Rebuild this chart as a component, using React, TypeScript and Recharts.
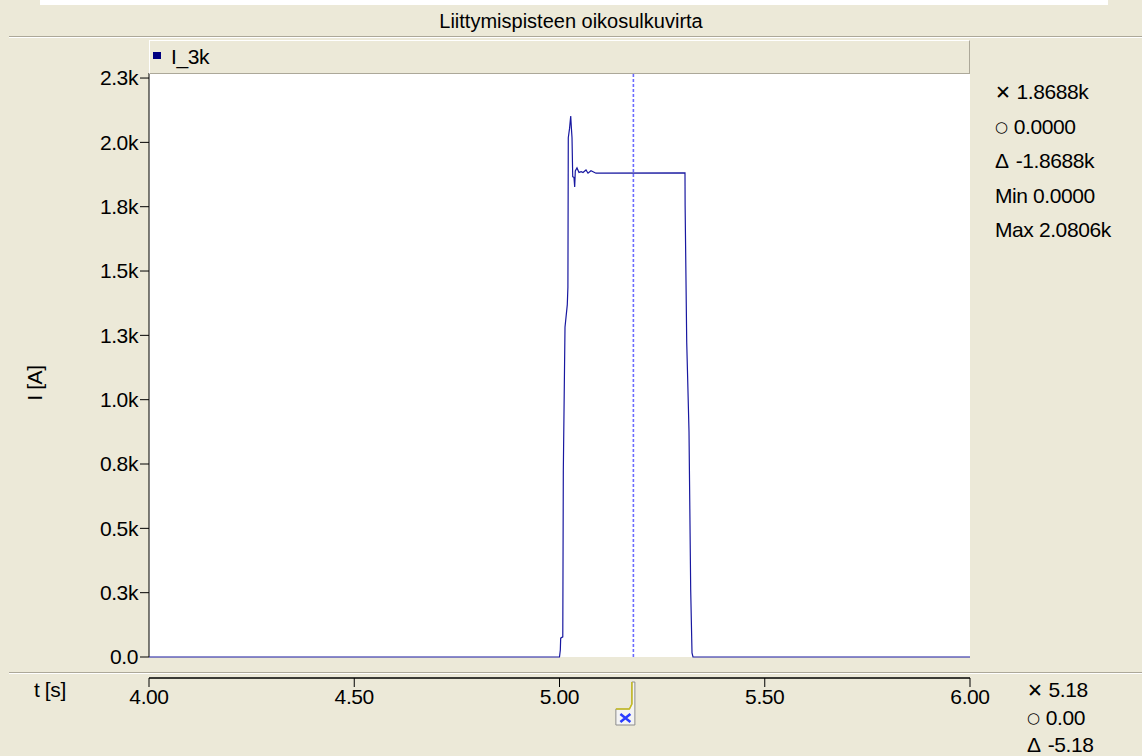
import React from 'react';
import { LineChart, Line, XAxis, YAxis, ReferenceArea, ReferenceLine, ReferenceDot } from 'recharts';

// I_3k short-circuit current (t in s, I in A)
const timeS = [
  4.0, 5.0, 5.002, 5.0029, 5.008, 5.0093, 5.0134, 5.019, 5.0205, 5.0214,
  5.0245, 5.0273, 5.029, 5.0305, 5.0322, 5.0353, 5.037, 5.0385, 5.0426, 5.0475,
  5.053, 5.0572, 5.0646, 5.0694, 5.0767, 5.0889, 5.3057, 5.306, 5.3099, 5.3123,
  5.3155, 5.3196, 5.3228, 5.3252, 6.0,
];
const currentA = [
  0, 0, 28, 75, 80, 740, 1310, 1400, 1470, 2063,
  2100, 2149, 2100, 2063, 1908, 1905, 1867, 1931, 1943, 1925,
  1928, 1925, 1935, 1922, 1932, 1922, 1923, 1796, 1250, 1100,
  894, 266, 16, 0, 0,
];

const xTicks = [4.0, 4.5, 5.0, 5.5, 6.0];
const yTicks = [0, 255.56, 511.11, 766.67, 1022.22, 1277.78, 1533.33, 1788.89, 2044.44, 2300];
const yTickLabels = ['0.0', '0.3k', '0.5k', '0.8k', '1.0k', '1.3k', '1.5k', '1.8k', '2.0k', '2.3k'];

// cursor readout
const cursorT = 5.18;
const statsTop = [
  { sym: '✕', text: '1.8688k' },
  { sym: '○', text: '0.0000' },
  { sym: 'Δ', text: '-1.8688k' },
  { sym: '', text: 'Min 0.0000' },
  { sym: '', text: 'Max 2.0806k' },
];
const statsBottom = [
  { sym: '✕', text: '5.18' },
  { sym: '○', text: '0.00' },
  { sym: 'Δ', text: '-5.18' },
];

// white plot area ends a bit above 2.3k, axis strip sits below 0
const Y_MIN = -83.4;
const Y_MAX = 2320;

const BG = '#ECE9D8';
const FONT = '"Liberation Sans", Arial, sans-serif';

const CursorHandle = ({ cx, cy }: { cx: number; cy: number }) => (
  <g>
    <path
      d={`M${cx + 1.5},${cy + 4} L${cx + 1.5},${cy + 47} L${cx - 17.5},${cy + 47} L${cx - 17.5},${cy + 31} L${cx - 4},${cy + 31} L${cx - 1.5},${cy + 26} L${cx - 1.5},${cy + 4} Z`}
      fill="#f4f4f4"
      stroke="#8c8c8c"
    />
    <path
      d={`M${cx - 17.5},${cy + 31} L${cx - 4},${cy + 31} L${cx - 1.5},${cy + 26} L${cx - 1.5},${cy + 4}`}
      fill="none"
      stroke="#c8be1e"
      strokeWidth={1.5}
    />
    <path
      d={`M${cx - 13},${cy + 36} L${cx - 3},${cy + 44} M${cx - 3},${cy + 36} L${cx - 13},${cy + 44}`}
      stroke="#2a3cff"
      strokeWidth={2.5}
    />
  </g>
);

const symStyle = (sym: string): React.CSSProperties => {
  if (sym === '○') return { fontSize: 15, fontFamily: '"DejaVu Sans", sans-serif', position: 'relative', top: -2, marginRight: 6 };
  if (sym === '✕') return { fontSize: 19, fontFamily: '"DejaVu Sans", sans-serif', marginRight: 6 };
  return { marginRight: 7 };
};

const Stat = ({ sym, text, left, top }: { sym: string; text: string; left: number; top: number }) => (
  <div style={{ position: 'absolute', left, top, height: 24, lineHeight: '24px', whiteSpace: 'nowrap' }}>
    {sym && <span style={symStyle(sym)}>{sym}</span>}
    {text}
  </div>
);

export default function App() {
  const data = timeS.map((t, k) => ({ t, i: currentA[k] }));
  const yLabel = (v: number) => {
    let best = 0;
    yTicks.forEach((tv, k) => {
      if (Math.abs(tv - v) < Math.abs(yTicks[best] - v)) best = k;
    });
    return yTickLabels[best];
  };

  return (
    <div
      style={{
        position: 'absolute', left: 0, top: 0, width: 1142, height: 756, background: BG,
        fontFamily: FONT, fontSize: 21, letterSpacing: '-0.4px', color: '#000', overflow: 'hidden',
      }}
    >
      {/* frame lines */}
      <div style={{ position: 'absolute', left: 40, top: 0, width: 1068, height: 5, background: '#fff' }} />
      <div style={{ position: 'absolute', left: 9, top: 36, width: 1133, height: 1, background: '#ACA899' }} />
      <div style={{ position: 'absolute', left: 9, top: 37, width: 1133, height: 1, background: '#fff' }} />
      <div style={{ position: 'absolute', left: 9, top: 672, width: 1133, height: 1, background: '#ACA899' }} />
      <div style={{ position: 'absolute', left: 9, top: 673, width: 1133, height: 1, background: '#fff' }} />

      <div style={{ position: 'absolute', left: 0, top: 0 }}>
        <LineChart width={1142} height={756} data={data} margin={{ top: 73, right: 172, bottom: 38, left: 89 }}>
          <ReferenceArea x1={4} x2={6} y1={0} y2={Y_MAX} fill="#fff" fillOpacity={1} stroke="none" />
          <XAxis
            type="number"
            dataKey="t"
            domain={[4, 6]}
            allowDataOverflow
            ticks={xTicks}
            interval={0}
            tickFormatter={(v: number) => v.toFixed(2)}
            height={40}
            tickSize={9}
            tickMargin={2}
            axisLine={{ stroke: '#000', strokeWidth: 1.5 }}
            tickLine={{ stroke: '#000' }}
            tick={{ fill: '#000', fontSize: 21 }}
          />
          <YAxis
            type="number"
            domain={[Y_MIN, Y_MAX]}
            allowDataOverflow
            ticks={yTicks}
            interval={0}
            tickFormatter={yLabel}
            width={60}
            tickSize={9}
            tickMargin={2}
            axisLine={false}
            tickLine={{ stroke: '#000' }}
            tick={{ fill: '#000', fontSize: 21 }}
          />
          <ReferenceLine segment={[{ x: 4, y: 0 }, { x: 4, y: Y_MAX }]} stroke="#000" />
          <ReferenceLine
            segment={[{ x: cursorT, y: 0 }, { x: cursorT, y: Y_MAX }]}
            stroke="#6a6aff"
            strokeWidth={1.6}
            strokeDasharray="3 2"
          />
          <Line
            type="linear"
            dataKey="i"
            name="I_3k"
            stroke="#1818a0"
            strokeWidth={1.2}
            dot={false}
            isAnimationActive={false}
          />
          <ReferenceDot
            x={cursorT}
            y={Y_MIN}
            ifOverflow="visible"
            shape={(p: any) => <CursorHandle cx={p.cx} cy={p.cy} />}
          />
        </LineChart>
      </div>

      {/* title */}
      <div style={{ position: 'absolute', left: 0, top: 9, width: 1142, textAlign: 'center', fontSize: 20, lineHeight: '24px', letterSpacing: 0 }}>
        Liittymispisteen oikosulkuvirta
      </div>

      {/* legend bar */}
      <div
        style={{
          position: 'absolute', left: 149, top: 40, width: 819, height: 32, background: BG,
          borderTop: '1px solid #fff', borderLeft: '1px solid #fff',
          borderRight: '1px solid #ACA899', borderBottom: '1px solid #ACA899',
        }}
      >
        <div style={{ position: 'absolute', left: 3, top: 11, width: 8, height: 7, background: '#000080' }} />
        <div style={{ position: 'absolute', left: 21, top: 4, lineHeight: '24px' }}>I_3k</div>
      </div>

      {/* axis titles */}
      <div
        style={{
          position: 'absolute', left: 35, top: 383, lineHeight: '24px', whiteSpace: 'nowrap',
          transform: 'translate(-50%, -50%) rotate(-90deg)',
        }}
      >
        I [A]
      </div>
      <div style={{ position: 'absolute', left: 34, top: 678, lineHeight: '24px' }}>t [s]</div>

      {statsTop.map((s, k) => (
        <Stat key={k} sym={s.sym} text={s.text} left={995} top={80 + k * 34.5} />
      ))}
      {statsBottom.map((s, k) => (
        <Stat key={k} sym={s.sym} text={s.text} left={1027} top={678 + k * 27.5} />
      ))}
    </div>
  );
}
